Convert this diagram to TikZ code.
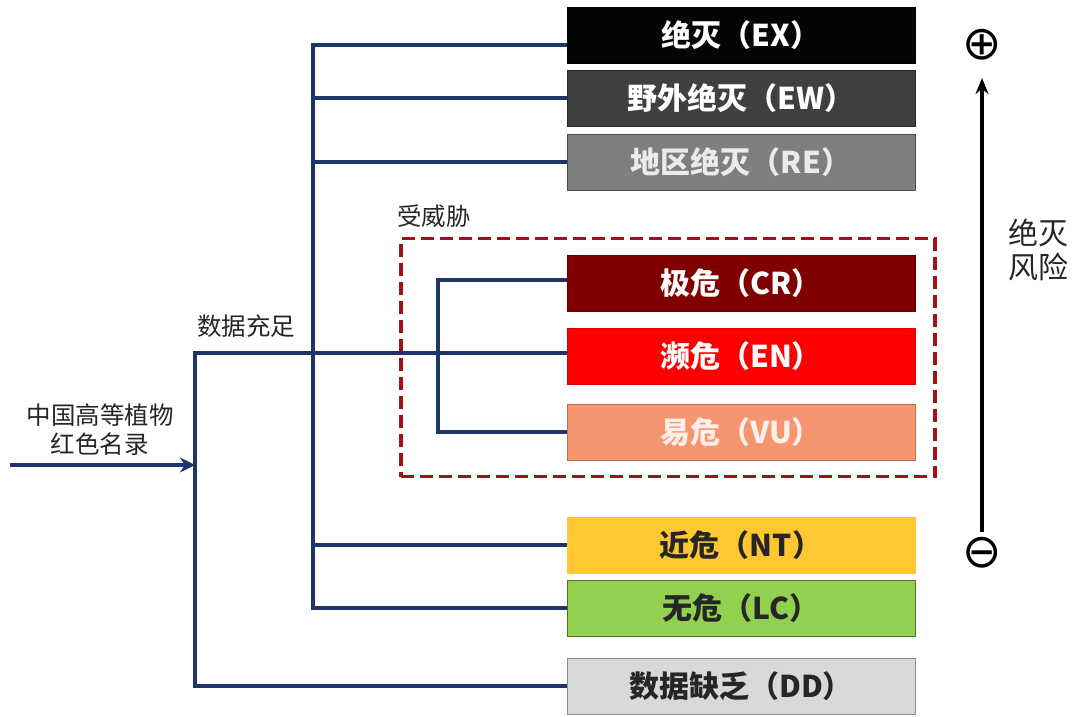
\documentclass[tikz,border=0pt]{standalone}
\usepackage{fontspec}
\setmainfont{Noto Sans CJK SC}
\newfontfamily\symfont{DejaVu Sans}
\usetikzlibrary{arrows.meta}
\definecolor{navy}{HTML}{1F3468}
\definecolor{threat}{HTML}{A01218}
\definecolor{cEX}{HTML}{050505}
\definecolor{cEW}{HTML}{404040}
\definecolor{cRE}{HTML}{7F7F7F}
\definecolor{cCR}{HTML}{800000}
\definecolor{cEN}{HTML}{FF0000}
\definecolor{cVU}{HTML}{F59670}
\definecolor{cNT}{HTML}{FFC732}
\definecolor{cLC}{HTML}{92D050}
\definecolor{cDD}{HTML}{D9D9D9}
\begin{document}
\begin{tikzpicture}[x=1pt,y=-1pt,
  cat/.style={minimum width=348pt, minimum height=56pt, inner sep=0pt, line width=1pt,
    font=\fontsize{30}{32}\selectfont\bfseries},
  link/.style={draw=navy, line width=3.2pt},
  lbl/.style={font=\fontsize{24.5}{29}\selectfont, text=black!85, inner sep=0pt, align=center},
  sign/.style={font=\symfont\fontsize{47}{47}\selectfont, inner sep=0pt}]
\useasboundingbox (0,0) rectangle (1075,716);
% category boxes
\node[cat, fill=cEX, draw=black, text=white] (ex) at (741,35) {绝灭（EX）};
\node[cat, fill=cEW, draw=black!85, text=white] (ew) at (741,98) {野外绝灭（EW）};
\node[cat, fill=cRE, draw=black!70, text=white!92!black] (re) at (741,162) {地区绝灭（RE）};
\node[cat, fill=cCR, draw=cCR!80!black, text=white] (cr) at (741,283) {极危（CR）};
\node[cat, fill=cEN, draw=cEN!85!black, text=white] (en) at (741,356) {濒危（EN）};
\node[cat, fill=cVU, draw=cVU!75!black, text=white!85!cVU] (vu) at (741,432) {易危（VU）};
\node[cat, fill=cNT, draw=cNT, text=black!85] (nt) at (741,545) {近危（NT）};
\node[cat, fill=cLC, draw=cLC!55!black, text=black!85] (lc) at (741,608) {无危（LC）};
\node[cat, fill=cDD, draw=black!45, text=black!85] (dd) at (741,686) {数据缺乏（DD）};
% threatened group
\node[draw=threat, line width=3.5pt, dash pattern=on 13pt off 6pt, minimum width=534pt, minimum height=238pt, inner sep=0pt] (grp) at (668,357.5) {};
\node[lbl, anchor=west] (grplbl) at (397,216) {受威胁};
% labels
\node[lbl] (src) at (100,430) {中国高等植物\\红色名录};
\node[lbl] (adeq) at (246,326) {数据充足};
% junction coordinates
\coordinate (start) at (10,465);
\coordinate (oa) at (195,353);
\coordinate (ob) at (195,686);
\coordinate (ta) at (313,45);
\coordinate (tb) at (313,608);
\coordinate (ia) at (438,280);
\coordinate (ib) at (438,432);
% connectors
\draw[link] ([yshift=-10pt]ex.west) -- (ta) -- (tb) -- (lc.west);
\draw[link] (ew.west) -- (ew.west -| ta);
\draw[link] (re.west) -- (re.west -| ta);
\draw[link] (nt.west) -- (nt.west -| ta);
\draw[link] (cr.west |- ia) -- (ia) -- (ib) -- (vu.west);
\draw[link] (en.west |- oa) -- (oa) -- (ob) -- (dd.west);
\draw[link, -{Stealth[length=15pt, width=15pt]}] (start) -- (start -| oa);
% risk axis
\node[sign] (plus) at (982,45) {⊕};
\node[sign] (minus) at (982,553) {⊖};
\draw[line width=4.5pt, -{Stealth[length=16pt, width=13pt]}] (982,532) -- (982,78);
\node[lbl, font=\fontsize{30}{34}\selectfont] (risk) at (1038,250) {绝灭\\风险};
\end{tikzpicture}
\end{document}
